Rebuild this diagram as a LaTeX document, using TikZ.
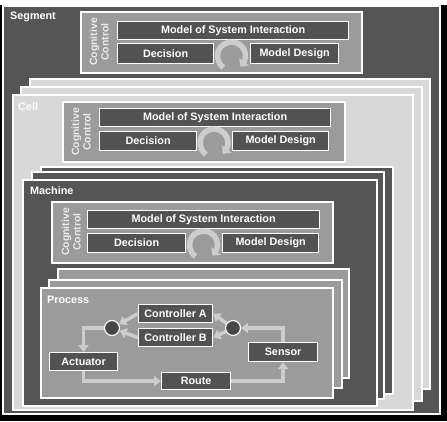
\documentclass[tikz,border=0pt]{standalone}
\usepackage{fontspec}
\setmainfont{Liberation Sans}
\usetikzlibrary{arrows.meta,bending}
\definecolor{dgray}{HTML}{555555}
\definecolor{mgray}{HTML}{9B9B9B}
\definecolor{lgray}{HTML}{D8D8D8}
\definecolor{boxgray}{HTML}{525252}
\definecolor{arrgray}{HTML}{CDCDCD}
\definecolor{circgray}{HTML}{474747}
\newcommand\lbox[6]{\node[lbl, minimum width={#4pt-#2pt}, minimum height={#5pt-#3pt}] (#1) at (#2,-#3) {#6};}
\begin{document}
\begin{tikzpicture}[x=1pt,y=1pt,
  frame/.style={draw=white, line width=1.2pt},
  darkfill/.style={frame, fill=dgray},
  midfill/.style={frame, fill=mgray},
  lightfill/.style={frame, fill=lgray},
  lbl/.style={draw=white, line width=1.2pt, fill=boxgray, text=white,
    font=\fontsize{10.8}{12}\selectfont\bfseries, inner sep=0pt, anchor=north west},
  title/.style={text=white, font=\fontsize{10.8}{12}\selectfont\bfseries, anchor=west, inner sep=0pt},
  cogtext/.style={text=white!92!black, font=\fontsize{10.5}{11.5}\selectfont\bfseries,
    rotate=90, align=center, inner sep=0pt},
  flow/.style={draw=arrgray, line width=3.5pt, -{Triangle[length=7pt,width=10pt]}},
  loopar/.style={draw=arrgray, line width=5.5pt, -{Triangle[length=6pt,width=12pt,flex]}},
  dot/.style={circle, fill=circgray, draw=white, line width=1.2pt, minimum size=15pt, inner sep=0pt}
]
% background
\fill[black] (0,0) rectangle (447,-421);
\fill[white] (0,0) rectangle (447,-5);
% Segment
\draw[darkfill] (3,-6) rectangle (440,-414);
\node[title] (segt) at (10,-17) {Segment};
\draw[midfill] (81,-12) rectangle (362,-73);
\node[cogtext] (segcc) at (99,-42) {Cognitive\\Control};
\lbox{segmsi}{117}{21}{348}{39}{Model of System Interaction}
\lbox{segdec}{117}{43}{213}{63}{Decision}
\lbox{segmd}{250}{43}{338}{63}{Model Design}
\draw[loopar] ([shift={(235:14)}]231.5,-56) arc[start angle=235,end angle=-50,radius=14];
% Cell stack
\draw[lightfill] (30,-79) rectangle (430,-389);
\draw[lightfill] (21,-87) rectangle (422,-401);
\draw[lightfill] (13,-95) rectangle (413,-410);
\node[title] (cellt) at (18,-107) {Cell};
\draw[midfill] (63,-102) rectangle (345,-162);
\node[cogtext] (cellcc) at (81,-132) {Cognitive\\Control};
\lbox{cellmsi}{99}{108}{330}{126}{Model of System Interaction}
\lbox{celldec}{99}{131}{196}{150}{Decision}
\lbox{cellmd}{232}{131}{328}{150}{Model Design}
\draw[loopar] ([shift={(235:14)}]214,-143) arc[start angle=235,end angle=-50,radius=14];
% Machine stack
\draw[darkfill] (41,-167) rectangle (393,-394);
\draw[darkfill] (32,-172) rectangle (384,-399);
\draw[darkfill] (23,-180) rectangle (377,-406);
\node[title] (macht) at (30,-191) {Machine};
\draw[midfill] (52,-202) rectangle (333,-263);
\node[cogtext] (machcc) at (71,-232) {Cognitive\\Control};
\lbox{machmsi}{87}{210}{319}{228}{Model of System Interaction}
\lbox{machdec}{87}{233}{185}{252}{Decision}
\lbox{machmd}{222}{233}{318}{252}{Model Design}
\draw[loopar] ([shift={(235:14)}]203.5,-245) arc[start angle=235,end angle=-50,radius=14];
% Process stack
\draw[midfill] (58,-269) rectangle (349,-378);
\draw[midfill] (49,-280) rectangle (342,-388);
\draw[midfill] (41,-288) rectangle (333,-398);
\node[title] (proct) at (47,-300) {Process};
\lbox{ca}{138}{304}{212}{322}{Controller A}
\lbox{cb}{138}{328}{212}{346}{Controller B}
\lbox{act}{49}{352}{117}{370}{Actuator}
\lbox{sen}{248}{342}{317}{361}{Sensor}
\lbox{route}{161}{372}{230}{389}{Route}
\node[dot] (lc) at (112,-328) {};
\node[dot] (rc) at (233,-328) {};
\draw[flow] (ca.west) -- (lc);
\draw[flow] (cb.west) -- (lc);
\draw[flow] (rc) -- (ca.east);
\draw[flow] (rc) -- (cb.east);
\draw[flow] (lc.west) -| (act.north);
\draw[flow] (act.south) |- (route.west);
\draw[flow] (route.east) -| (sen.south);
\draw[flow] (sen.north) |- (rc.east);
\end{tikzpicture}
\end{document}
